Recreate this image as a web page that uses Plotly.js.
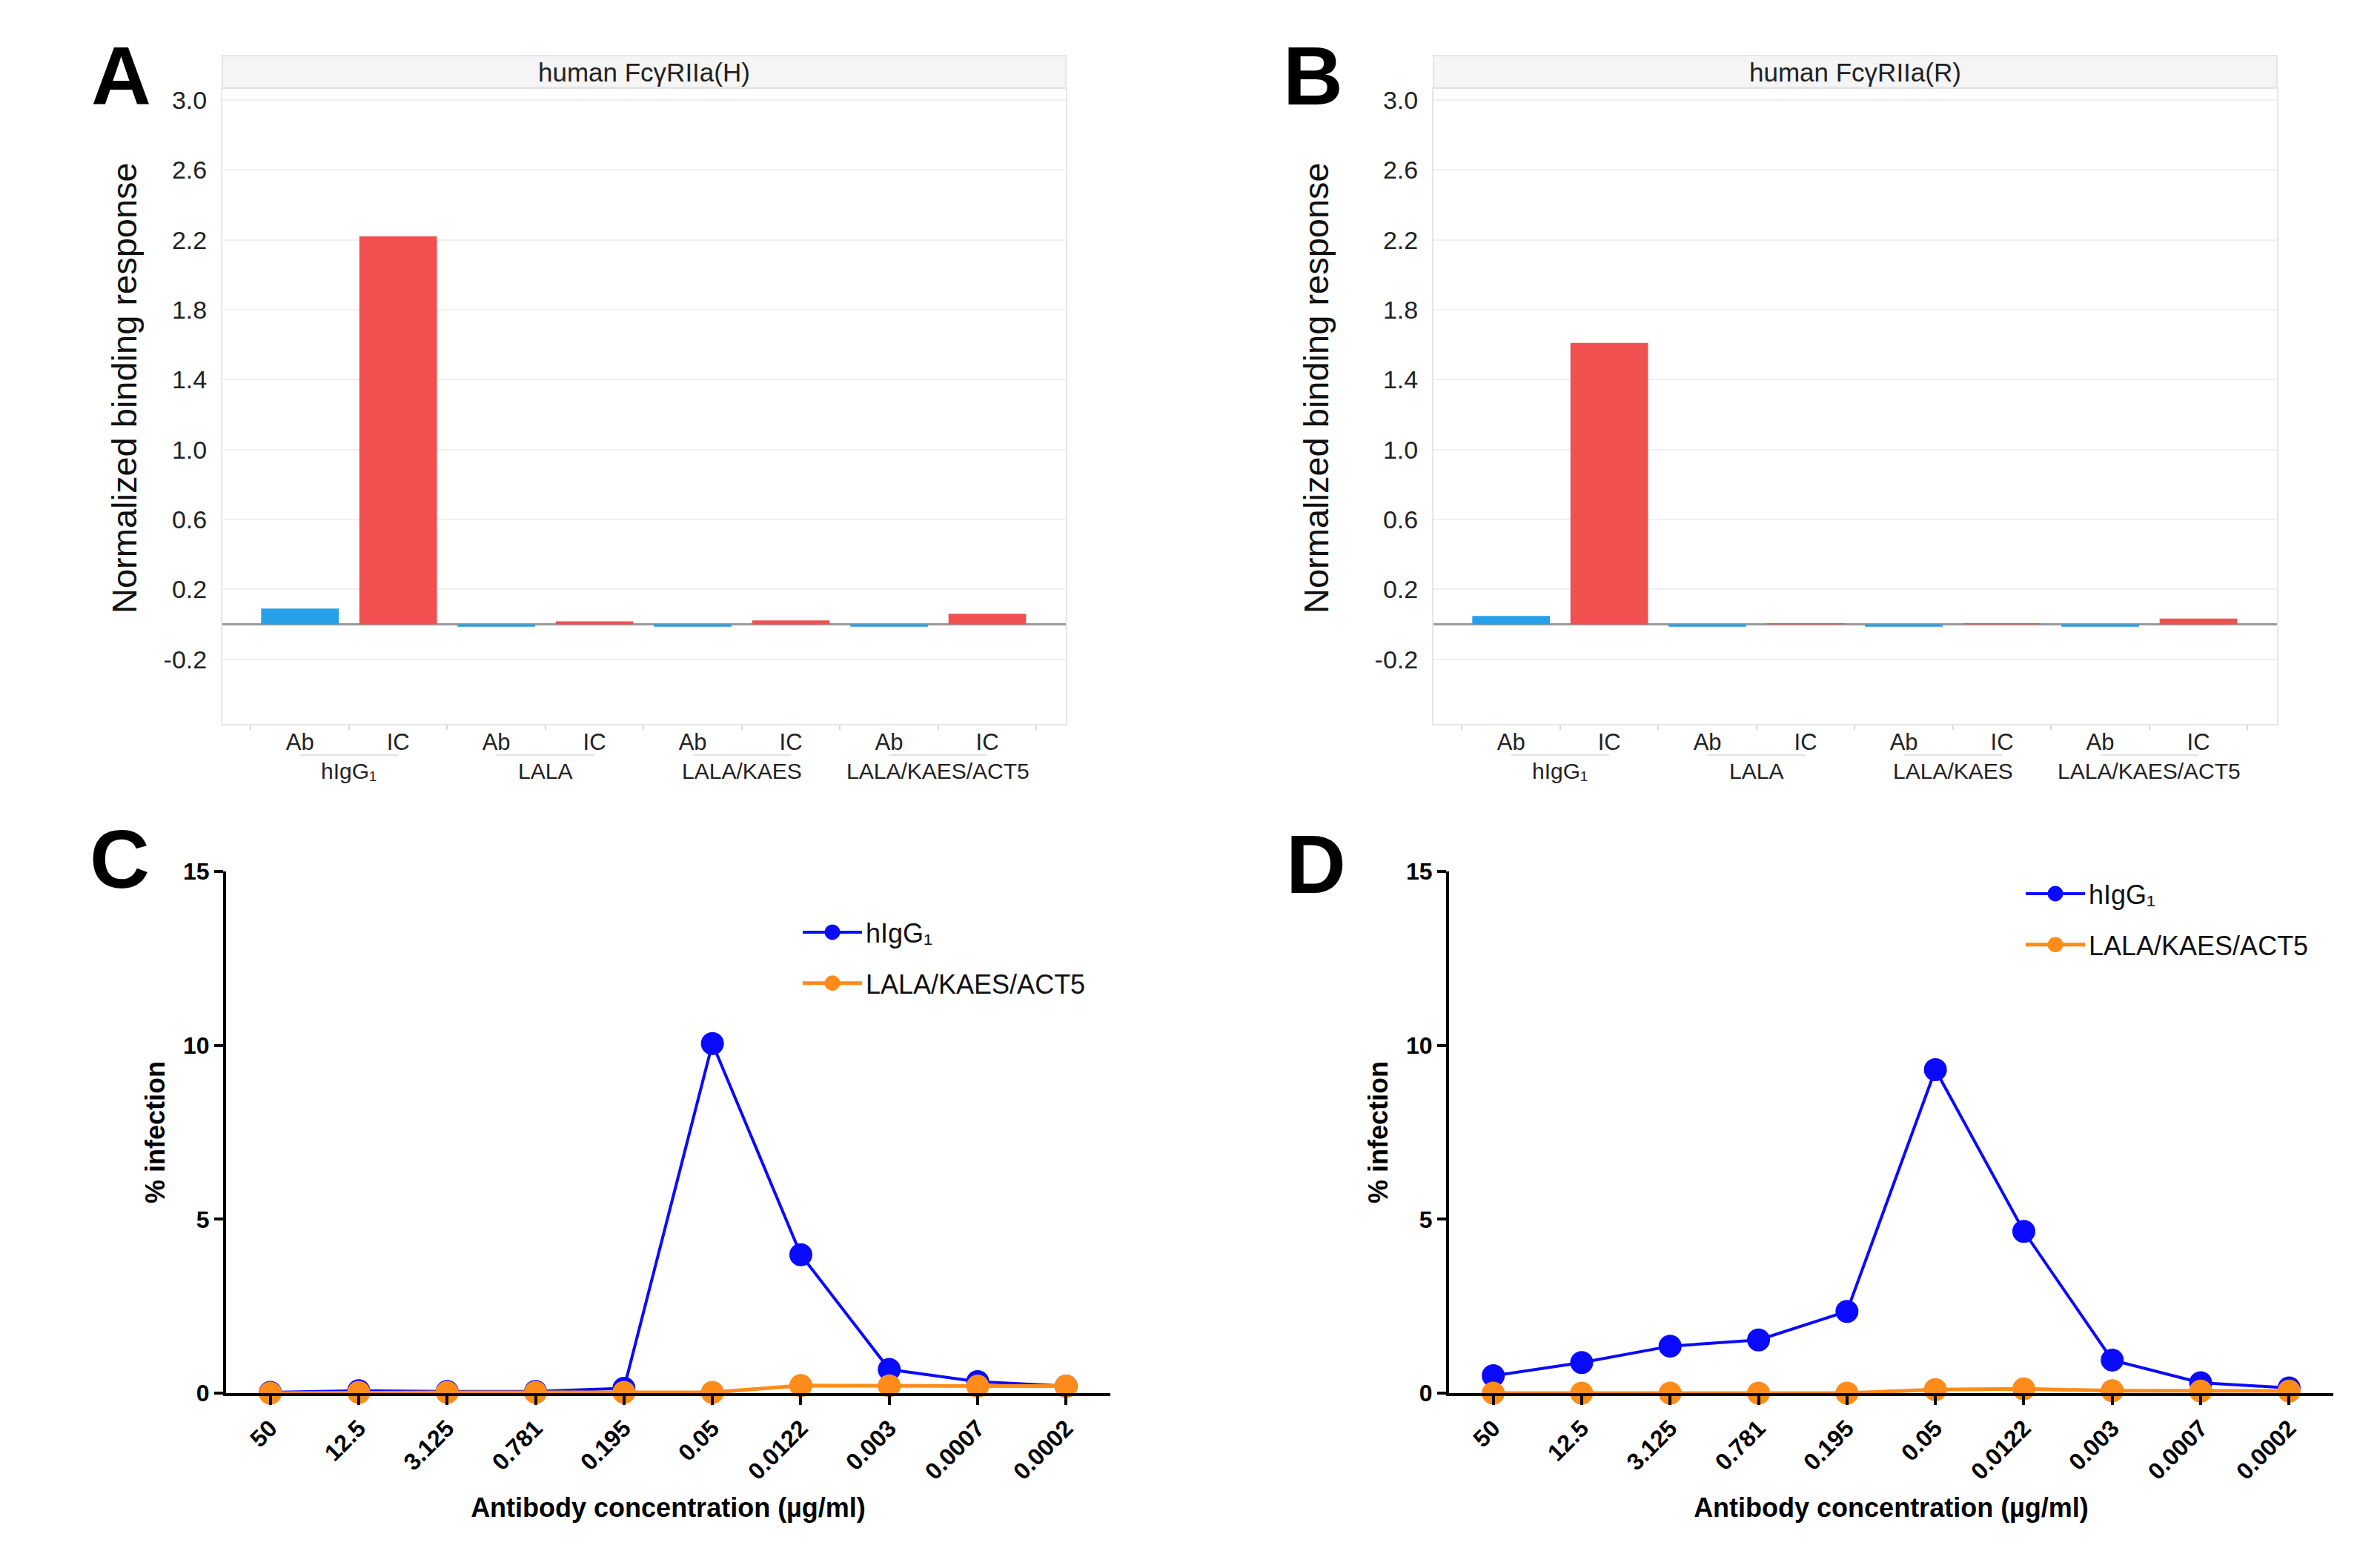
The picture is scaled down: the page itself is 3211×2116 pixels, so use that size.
<!DOCTYPE html>
<html>
<head>
<meta charset="utf-8">
<script src="https://cdn.plot.ly/plotly-3.0.1.min.js"></script>
<style>html,body{margin:0;padding:0;background:#fff;}#chart{width:3211px;height:2116px;}</style>
</head>
<body>
<div id="chart"></div>
<script>
// ---------- data ----------
const groups = ["hIgG\u2081", "LALA", "LALA/KAES", "LALA/KAES/ACT5"];
const abCats = ["hIgG1 Ab", "LALA Ab", "LALA/KAES Ab", "LALA/KAES/ACT5 Ab"];
const icCats = ["hIgG1 IC", "LALA IC", "LALA/KAES IC", "LALA/KAES/ACT5 IC"];
const barCats = ["hIgG1 Ab", "hIgG1 IC", "LALA Ab", "LALA IC", "LALA/KAES Ab", "LALA/KAES IC", "LALA/KAES/ACT5 Ab", "LALA/KAES/ACT5 IC"];
const barTickText = ["Ab", "IC", "Ab", "IC", "Ab", "IC", "Ab", "IC"];

const aAb = [0.09, -0.014, -0.014, -0.014];   // human FcγRIIa(H), Ab
const aIC = [2.22, 0.017, 0.023, 0.061];      // human FcγRIIa(H), IC
const bAb = [0.048, -0.014, -0.014, -0.014];  // human FcγRIIa(R), Ab
const bIC = [1.61, 0.007, 0.007, 0.033];      // human FcγRIIa(R), IC

const yTickVals = [-0.2, 0.2, 0.6, 1.0, 1.4, 1.8, 2.2, 2.6, 3.0];
const yTickText = ["-0.2", "0.2", "0.6", "1.0", "1.4", "1.8", "2.2", "2.6", "3.0"];

const conc = ["50", "12.5", "3.125", "0.781", "0.195", "0.05", "0.0122", "0.003", "0.0007", "0.0002"];
const cHigg = [0.02, 0.07, 0.05, 0.05, 0.14, 10.05, 3.98, 0.68, 0.33, 0.2];
const cAct5 = [0.0, 0.02, 0.02, 0.02, 0.02, 0.02, 0.22, 0.21, 0.2, 0.2];
const dHigg = [0.5, 0.88, 1.35, 1.53, 2.35, 9.3, 4.65, 0.95, 0.3, 0.15];
const dAct5 = [0.0, 0.0, 0.0, 0.0, 0.0, 0.1, 0.12, 0.07, 0.06, 0.06];

// ---------- helpers ----------
const W = 3211, H = 2116;
const px = v => v / W;
const py = v => 1 - v / H;
const FONT = "Arial, 'Liberation Sans', sans-serif";
const BLUE_BAR = "#27a0ea", RED_BAR = "#f05050";
const BLUE = "#0a0aff", ORANGE = "#ff8c1a";
const BAR_RANGE = [-0.79, 7.8];

const traces = [];
function barPanel(ab, ic, xa, ya) {
  traces.push({type: "bar", x: abCats, y: ab, xaxis: xa, yaxis: ya, width: 0.79,
    marker: {color: BLUE_BAR}, showlegend: false, name: "Ab"});
  traces.push({type: "bar", x: icCats, y: ic, xaxis: xa, yaxis: ya, width: 0.79,
    marker: {color: RED_BAR}, showlegend: false, name: "IC"});
}
barPanel(aAb, aIC, "x", "y");
barPanel(bAb, bIC, "x2", "y2");

function linePanel(h, o, xa, ya, leg, tag) {
  traces.push({type: "scatter", mode: "lines+markers", x: conc, y: h, xaxis: xa, yaxis: ya,
    name: "hIgG\u2081", legend: leg, legendgroup: tag + "h", cliponaxis: false,
    line: {color: BLUE, width: 4},
    marker: {color: BLUE, size: 26, line: {color: BLUE, width: 5}}});
  traces.push({type: "scatter", mode: "lines+markers", x: conc, y: o, xaxis: xa, yaxis: ya,
    name: "LALA/KAES/ACT5", legend: leg, legendgroup: tag + "o", cliponaxis: false,
    line: {color: ORANGE, width: 5},
    marker: {color: ORANGE, size: 26, line: {color: ORANGE, width: 5}}});
}
linePanel(cHigg, cAct5, "x3", "y3", "legend", "c");
linePanel(dHigg, dAct5, "x4", "y4", "legend2", "d");

function barX(d0, d1, anchor) {
  return {domain: [px(d0), px(d1)], anchor: anchor, type: "category",
    categoryorder: "array", categoryarray: barCats, range: BAR_RANGE,
    tickmode: "array", tickvals: barCats, ticktext: barTickText, tickson: "boundaries",
    ticks: "outside", ticklen: 6, tickwidth: 2, tickcolor: "#d8d8d8",
    showline: true, mirror: true, linecolor: "#e6e6e6", linewidth: 2,
    showgrid: false, zeroline: false, ticklabelstandoff: -4,
    tickfont: {family: FONT, size: 31, color: "#222"}};
}
function barY(anchor) {
  return {domain: [py(977), py(119)], anchor: anchor, range: [-0.570, 3.068],
    tickmode: "array", tickvals: yTickVals, ticktext: yTickText,
    showgrid: true, gridcolor: "#f0f0f0", gridwidth: 2,
    zeroline: true, zerolinecolor: "#9a9a9a", zerolinewidth: 3,
    showline: true, mirror: true, linecolor: "#e6e6e6", linewidth: 2,
    ticks: "", ticklabelstandoff: 12,
    tickfont: {family: FONT, size: 34, color: "#222"}};
}
const boldTitle = {family: FONT, size: 36, color: "#000", weight: "bold"};
function lineX(d0, d1, anchor) {
  return {domain: [px(d0), px(d1)], anchor: anchor, type: "category", range: [-0.5, 9.5],
    showline: true, linecolor: "#000", linewidth: 4, ticks: "outside", ticklen: 12,
    tickwidth: 4, tickcolor: "#000", tickangle: -45, showgrid: false, zeroline: false,
    automargin: false,
    title: {text: "Antibody concentration (µg/ml)", font: boldTitle, standoff: 20},
    tickfont: {family: FONT, size: 32, color: "#000", weight: "bold"}};
}
function lineY(anchor) {
  return {domain: [py(1880), py(1176)], anchor: anchor, range: [0, 15],
    tickmode: "array", tickvals: [0, 5, 10, 15],
    showline: true, linecolor: "#000", linewidth: 4, ticks: "outside", ticklen: 12,
    tickwidth: 4, tickcolor: "#000", showgrid: false, zeroline: false,
    automargin: false,
    title: {text: "% infection", font: boldTitle, standoff: 14},
    tickfont: {family: FONT, size: 32, color: "#000", weight: "bold"}};
}

const annotations = [];
function ann(text, x, y, opts) {
  annotations.push(Object.assign({text: text, x: px(x), y: py(y), xref: "paper", yref: "paper",
    showarrow: false, xanchor: "center", yanchor: "middle",
    font: {family: FONT, size: 32, color: "#111"}}, opts || {}));
}
// panel letters
[["A", 163, 103], ["B", 1771, 102], ["C", 161, 1159], ["D", 1775, 1166]].forEach(l =>
  ann(l[0], l[1], l[2], {font: {family: FONT, size: 112, color: "#000", weight: "bold"}}));
// strip titles
ann("human FcγRIIa(H)", 869, 97, {font: {family: FONT, size: 35, color: "#222"}});
ann("human FcγRIIa(R)", 2503, 97, {font: {family: FONT, size: 35, color: "#222"}});
// y titles top
ann("Normalized binding response", 167, 524, {textangle: -90, font: {family: FONT, size: 47, color: "#111"}});
ann("Normalized binding response", 1775, 524, {textangle: -90, font: {family: FONT, size: 47, color: "#111"}});
// group labels, centred between each Ab / IC pair of the category axis
[[300, 1438], [1934, 3072]].forEach(d => groups.forEach((g, i) => {
  const frac = (2 * i + 0.5 - BAR_RANGE[0]) / (BAR_RANGE[1] - BAR_RANGE[0]);
  ann(g, d[0] + frac * (d[1] - d[0]), 1040, {font: {family: FONT, size: 30, color: "#222"}});
}));

const shapes = [];
[[300, 1438], [1934, 3072]].forEach(s => shapes.push({type: "rect", xref: "paper", yref: "paper",
  x0: px(s[0]), x1: px(s[1]), y0: py(119), y1: py(75), fillcolor: "#f5f5f5",
  line: {color: "#e6e6e6", width: 2}, layer: "below"}));
["x", "x2"].forEach(xr => groups.forEach((g, i) => shapes.push({type: "line", xref: xr, yref: "paper",
  x0: 2 * i, x1: 2 * i + 1, y0: py(1019), y1: py(1019), line: {color: "#e2e2e2", width: 2}})));

const legendBase = {xanchor: "left", yanchor: "top", bgcolor: "rgba(0,0,0,0)",
  font: {family: FONT, size: 36, color: "#111"}, itemwidth: 80, tracegroupgap: 19};

const layout = {
  width: W, height: H, margin: {l: 0, r: 0, t: 0, b: 0},
  paper_bgcolor: "#fff", plot_bgcolor: "#fff", barmode: "overlay", showlegend: true,
  font: {family: FONT},
  xaxis: barX(300, 1438, "y"), yaxis: barY("x"),
  xaxis2: barX(1934, 3072, "y2"), yaxis2: barY("x2"),
  xaxis3: lineX(305, 1498, "y3"), yaxis3: lineY("x3"),
  xaxis4: lineX(1955, 3148, "y4"), yaxis4: lineY("x4"),
  legend: Object.assign({x: px(1078), y: py(1228)}, legendBase),
  legend2: Object.assign({x: px(2728), y: py(1176)}, legendBase),
  annotations: annotations, shapes: shapes
};
Plotly.newPlot("chart", traces, layout, {staticPlot: true, displayModeBar: false});
</script>
</body>
</html>
